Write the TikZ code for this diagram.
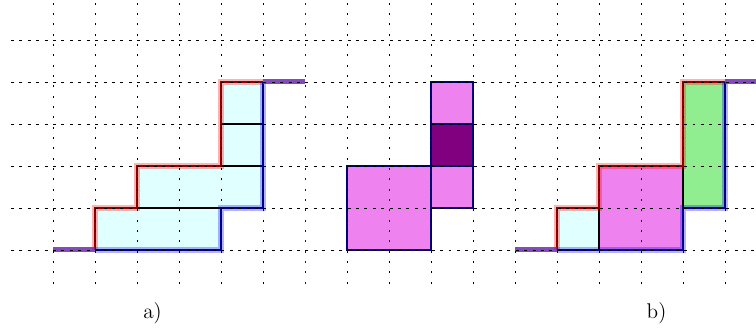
\documentclass[tikz,border=0pt]{standalone}

\definecolor{cellcyan}{RGB}{224,255,255}
\definecolor{cellviolet}{RGB}{238,130,238}
\definecolor{cellpurple}{RGB}{128,0,128}
\definecolor{cellgreen}{RGB}{144,238,144}
\definecolor{chainpurple}{RGB}{110,40,180}

\tikzset{
	hgrid/.style={black, line width=0.5pt, dash pattern=on 2pt off 3.7pt},
	vgrid/.style={black, line width=0.5pt, dash pattern=on 1.3pt off 5.7pt},
	upperpath/.style={red!55!black, line width=1.7pt, 
		preaction={draw, red, opacity=0.3, line width=4.3pt}},
	lowerpath/.style={blue!55!black, line width=1.7pt, 
		preaction={draw, blue, opacity=0.3, line width=4.3pt}},
	chainline/.style={chainpurple, opacity=0.85, line width=3.4pt},
	cellborder/.style={draw=blue!45!black, line width=1.2pt},
}

\begin{document}
\begin{tikzpicture}[
		font=\Large, 
		line join=miter
		]
		
		\useasboundingbox (-1.262,-2) rectangle (16.738,5.952);
		\clip (-1.262,-2) rectangle (16.738,5.952);
		
		\fill[cellcyan] 
		(1,0) -- (1,1) -- (2,1) -- (2,2) -- (4,2) -- (4,4) -- 
		(5,4) -- (5,1) -- (4,1) -- (4,0) -- cycle;
		\draw[thick] (2,1) -- (4,1);
		\draw[thick] (4,2) -- (5,2);
		\draw[thick] (4,3) -- (5,3);
		
		\draw[upperpath] 
		(1,0) -- (1,1) -- (2,1) -- (2,2) -- (4,2) -- (4,4) -- (5,4);
		\draw[lowerpath] 
		(1,0) -- (4,0) -- (4,1) -- (5,1) -- (5,4);
		\draw[chainline] (0,0) -- (1,0);
		\draw[chainline] (5,4) -- (6,4);
		
		\filldraw[cellborder, fill=cellviolet] (7,0) rectangle (9,2);
		\filldraw[cellborder, fill=cellviolet] (9,1) rectangle (10,2);
		\filldraw[cellborder, fill=cellpurple] (9,2) rectangle (10,3);
		\filldraw[cellborder, fill=cellviolet] (9,3) rectangle (10,4);
		
		\fill[cellcyan] (12,0) rectangle (13,1);
		\fill[cellviolet] (13,0) rectangle (15,2);
		\fill[cellgreen] (15,1) rectangle (16,4);
		\draw[thick] (13,0) -- (13,1);
		\draw[thick] (15,1) -- (15,2);
		
		\draw[upperpath] 
		(12,0) -- (12,1) -- (13,1) -- (13,2) -- (15,2) -- (15,4) -- (16,4);
		\draw[lowerpath] 
		(12,0) -- (15,0) -- (15,1) -- (16,1) -- (16,4);
		\draw[chainline] (11,0) -- (12,0);
		\draw[chainline] (16,4) -- (17,4);
		
		\foreach \j in {0,...,5} {
			\draw[hgrid] (-1,\j) -- (17,\j);
		}
		\foreach \i in {0,1,2,3,4,5,7,8,9,10,11,12,13,14,15,16} {
			\draw[vgrid] (\i,-0.8) -- (\i,6);
		}
		\draw[vgrid, blue] (6,-0.8) -- (6,6);
		
		\node (la) at (2.37,-1.5) {a)};
		\node (lb) at (14.37,-1.5) {b)};
		
	\end{tikzpicture}
\end{document}
